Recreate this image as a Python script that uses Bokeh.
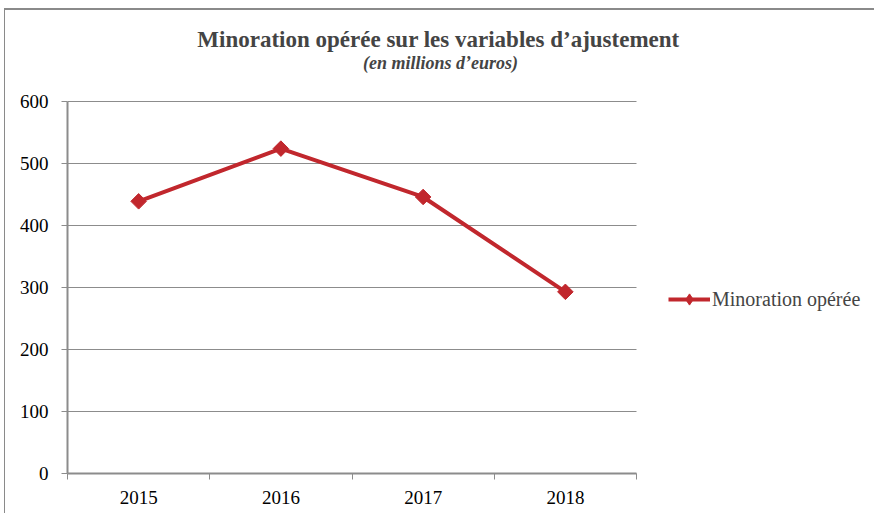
import math
from bokeh.plotting import figure
from bokeh.models import FixedTicker, Legend, LegendItem, Label, Range1d, ColumnDataSource
from bokeh.embed import file_html
from bokeh.resources import INLINE

years = ["2015", "2016", "2017", "2018"]
values = [439, 524, 446, 293]
yticks = [0, 100, 200, 300, 400, 500, 600]
series_name = "Minoration opérée"
title_text = "Minoration opérée sur les variables d’ajustement"
subtitle_text = "(en millions d’euros)"

RED = "#C1272D"
GRID = "#8C8C8C"
FONT = "Liberation Serif"

# layout (pixels): the frame spans the whole canvas right of the y axis;
# the visible plot area is 569 px wide and 372 px tall inside it.
W, H = 870, 505
LEFT, BOTTOM = 62, 42
AREA_W, AREA_H = 569, 372
frame_w, frame_h = W - LEFT, H - BOTTOM
n = len(years)
ymax = yticks[-1]
x_end = n * frame_w / AREA_W
y_end = ymax * frame_h / AREA_H
px_x = AREA_W / n          # px per x unit
px_y = AREA_H / ymax       # px per y unit

xs = [i + 0.5 for i in range(n)]
src = ColumnDataSource(dict(x=xs, y=values))
grid_src = ColumnDataSource(dict(x0=[0] * len(yticks), x1=[n] * len(yticks), y=yticks))

p = figure(width=W, height=H, output_backend="svg", toolbar_location=None, title=None,
           x_range=Range1d(0, x_end), y_range=Range1d(0, y_end),
           min_border_left=LEFT, min_border_right=0, min_border_top=0, min_border_bottom=BOTTOM)
p.outline_line_color = None
p.styles = {"margin-left": "4px", "margin-top": "8px",
            "border-left": "1px solid #8a8a8a", "border-top": "2px solid #8a8a8a"}
p.xgrid.grid_line_color = None
p.ygrid.grid_line_color = None

p.segment(x0="x0", x1="x1", y0="y", y1="y", source=grid_src, line_color=GRID, line_width=1)

ln = p.line("x", "y", source=src, line_color=RED, line_width=4)
sc = p.scatter("x", "y", source=src, marker="square", angle=math.pi / 4, size=11,
               fill_color=RED, line_color=RED)
# hidden renderer used only for the diamond swatch in the legend
leg_marker = p.scatter("x", "y", source=src, marker="diamond", size=14,
                       fill_color=RED, line_color=RED, visible=False)

# x axis: labels at category centers, ticks at category boundaries
p.xaxis.bounds = (0, n)
p.xaxis.ticker = FixedTicker(ticks=xs, minor_ticks=list(range(n + 1)))
p.xaxis.major_label_overrides = {x: y for x, y in zip(xs, years)}
p.xaxis.major_tick_line_color = None
p.xaxis.minor_tick_line_color = GRID
p.xaxis.minor_tick_out = 6
p.xaxis.minor_tick_in = 0
p.xaxis.major_label_standoff = 11

p.yaxis.bounds = (0, ymax)
p.yaxis.ticker = FixedTicker(ticks=yticks, minor_ticks=[])
p.yaxis.major_tick_out = 6
p.yaxis.major_tick_in = 0
p.yaxis.major_tick_line_color = GRID
p.yaxis.major_label_standoff = 13

for ax in (p.xaxis, p.yaxis):
    ax.axis_line_color = GRID
    ax.axis_line_width = 2
    ax.major_label_text_font = FONT
    ax.major_label_text_font_size = "19px"
    ax.major_label_text_color = "black"

legend = Legend(items=[LegendItem(label=series_name, renderers=[ln, leg_marker])],
                location=(601, 160), border_line_color=None, background_fill_alpha=0,
                label_text_font=FONT, label_text_font_size="20px", glyph_width=42,
                glyph_height=28, label_standoff=2, padding=0, margin=0)
p.add_layout(legend)

# titles (page x of centre and baseline -> data units)
p.add_layout(Label(x=(438 - 67) / px_x, y=(473 - 39) / px_y, text=title_text,
                   text_font=FONT, text_font_size="23px", text_font_style="bold",
                   text_align="center", text_baseline="alphabetic"))
p.add_layout(Label(x=(440 - 67) / px_x, y=(473 - 62) / px_y, text=subtitle_text,
                   text_font=FONT, text_font_size="18px", text_font_style="bold italic",
                   text_align="center", text_baseline="alphabetic"))

open("out.html", "w").write(file_html(p, INLINE))
